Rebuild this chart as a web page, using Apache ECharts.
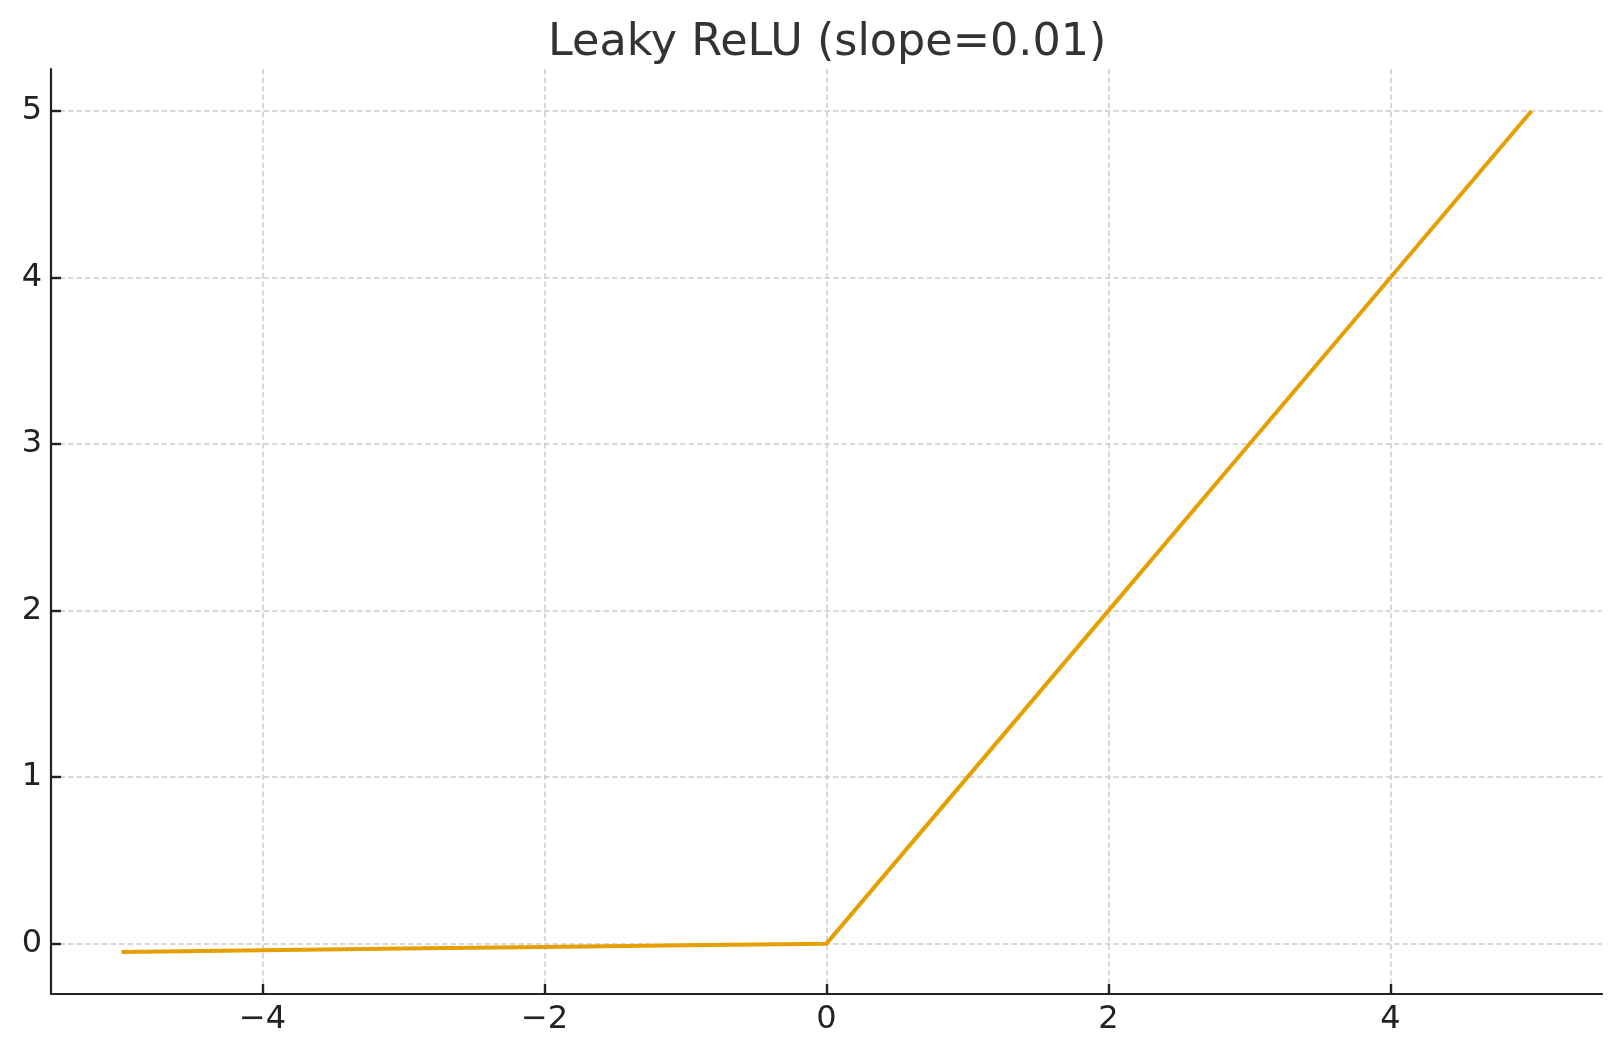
<!DOCTYPE html>
<html>
<head>
<meta charset="utf-8">
<title>Leaky ReLU</title>
<script src="https://cdn.jsdelivr.net/npm/echarts@6/dist/echarts.min.js"></script>
<style>
  html, body { margin: 0; padding: 0; background: #fff; }
  #chart { width: 1621px; height: 1057px; }
</style>
</head>
<body>
<div id="chart"></div>
<script>
// data
const xValues = [-5, -4, -3, -2, -1, 0, 1, 2, 3, 4, 5];
const yValues = [-0.05, -0.04, -0.03, -0.02, -0.01, 0, 1, 2, 3, 4, 5];
const xTicks = [-4, -2, 0, 2, 4];
const yTicks = [0, 1, 2, 3, 4, 5];

const xRange = [-5.5, 5.5];
const yRange = [-0.3025, 5.2525];

const minus = (v) => (v < 0 ? "\u2212" + Math.abs(v) : String(v));

// axis 0: dashed grid only; axis 1: spines, ticks and labels drawn on top of the grid
const gridAxis = (range, ticks) => ({
  type: "value",
  min: range[0],
  max: range[1],
  z: 0,
  axisLine: { show: false },
  axisTick: { show: false, customValues: ticks },
  axisLabel: { show: false, customValues: ticks },
  splitLine: {
    show: true,
    lineStyle: { color: "#cccccc", width: 1.5, type: [5.5, 3] },
  },
});

const spineAxis = (range, ticks, pos, margin) => ({
  type: "value",
  position: pos,
  min: range[0],
  max: range[1],
  z: 2,
  axisLine: { show: true, onZero: false, lineStyle: { color: "#222", width: 2.2 } },
  axisTick: {
    show: true,
    inside: true,
    length: 10,
    customValues: ticks,
    lineStyle: { color: "#222", width: 2.4 },
  },
  axisLabel: {
    customValues: ticks,
    formatter: minus,
    fontSize: 32,
    color: "#222",
    margin: margin,
  },
  splitLine: { show: false },
});

echarts.init(document.querySelector("#chart")).setOption({
  animation: false,
  backgroundColor: "#fff",
  textStyle: { fontFamily: "DejaVu Sans" },
  title: {
    text: "Leaky ReLU (slope=0.01)",
    left: 548, // centred over the plot area, not the page
    top: 21,
    padding: 0,
    textStyle: { fontSize: 44.5, fontWeight: "normal", color: "#333", fontFamily: "DejaVu Sans" },
  },
  grid: { left: 51, right: 19, top: 69, bottom: 63, containLabel: false },
  xAxis: [gridAxis(xRange, xTicks), spineAxis(xRange, xTicks, "bottom", 10)],
  yAxis: [gridAxis(yRange, yTicks), spineAxis(yRange, yTicks, "left", 9)],
  series: [
    {
      type: "line",
      xAxisIndex: 0,
      yAxisIndex: 0,
      data: xValues.map((x, i) => [x, yValues[i]]),
      showSymbol: false,
      lineStyle: { color: "#E69F00", width: 4 },
      z: 5,
    },
  ],
});
</script>
</body>
</html>
